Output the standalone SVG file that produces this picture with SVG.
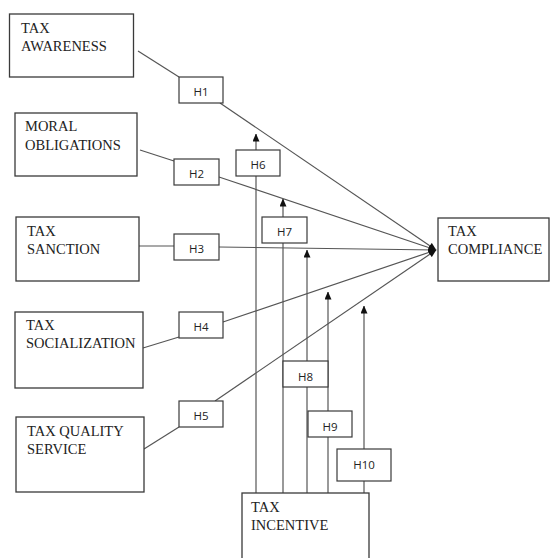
<svg xmlns="http://www.w3.org/2000/svg" width="550" height="558" viewBox="0 0 550 558">
<style>
.box{fill:#fff;stroke:#3a3a3a;stroke-width:1.3}
.hbox{fill:#fff;stroke:#3a3a3a;stroke-width:1.2}
.lbl{font-family:"Liberation Serif","Times New Roman",serif;font-size:14.5px;fill:#222}
.h{font-family:"Open Sans","DejaVu Sans",sans-serif;font-size:11.5px;fill:#222;text-anchor:middle}
.ln{stroke:#555;stroke-width:1.2;fill:none}
</style>
<defs>
<marker id="ah" markerWidth="8" markerHeight="7" refX="7.5" refY="3.5" orient="auto" markerUnits="userSpaceOnUse">
<path d="M0,0 L8,3.5 L0,7 z" fill="#111"/>
</marker>
</defs>
<rect width="550" height="558" fill="#fff"/>
<g id="connectors">
<polyline class="ln" points="138,51 179,77"/>
<polyline class="ln" points="220,103 436,250" marker-end="url(#ah)"/>
<polyline class="ln" points="140,150 174,161"/>
<polyline class="ln" points="219,177 436,250" marker-end="url(#ah)"/>
<polyline class="ln" points="139,246 174,246"/>
<polyline class="ln" points="219,247 436,250" marker-end="url(#ah)"/>
<polyline class="ln" points="143,348 179,337"/>
<polyline class="ln" points="223,322 436,250" marker-end="url(#ah)"/>
<polyline class="ln" points="144,449 179,427"/>
<polyline class="ln" points="215,401 436,250" marker-end="url(#ah)"/>
<line class="ln" x1="256" y1="493" x2="256" y2="134" marker-end="url(#ah)"/>
<line class="ln" x1="283" y1="493" x2="283" y2="199" marker-end="url(#ah)"/>
<line class="ln" x1="307" y1="493" x2="307" y2="250" marker-end="url(#ah)"/>
<line class="ln" x1="328" y1="493" x2="328" y2="292" marker-end="url(#ah)"/>
<line class="ln" x1="364" y1="493" x2="364" y2="306" marker-end="url(#ah)"/>
</g>
<g id="n-awareness"><rect class="box" x="9.5" y="14" width="124" height="63"/><text class="lbl" x="21" y="33">TAX</text><text class="lbl" x="21" y="51">AWARENESS</text></g>
<g id="n-moral"><rect class="box" x="15" y="113" width="122" height="63"/><text class="lbl" x="25" y="131">MORAL</text><text class="lbl" x="25" y="150">OBLIGATIONS</text></g>
<g id="n-sanction"><rect class="box" x="16" y="217" width="123" height="64"/><text class="lbl" x="27" y="236">TAX</text><text class="lbl" x="27" y="254">SANCTION</text></g>
<g id="n-socialization"><rect class="box" x="15" y="312" width="128" height="76"/><text class="lbl" x="26" y="330">TAX</text><text class="lbl" x="26" y="348">SOCIALIZATION</text></g>
<g id="n-quality"><rect class="box" x="16" y="417" width="128" height="75"/><text class="lbl" x="27" y="436">TAX QUALITY</text><text class="lbl" x="27" y="454">SERVICE</text></g>
<g id="n-compliance"><rect class="box" x="438" y="218" width="111" height="63"/><text class="lbl" x="448" y="236">TAX</text><text class="lbl" x="448" y="254">COMPLIANCE</text></g>
<g id="n-incentive"><rect class="box" x="242" y="493" width="127" height="70"/><text class="lbl" x="251" y="512">TAX</text><text class="lbl" x="251" y="530">INCENTIVE</text></g>
<g id="h1"><rect class="hbox" x="179" y="77" width="44" height="26"/><text class="h" x="201" y="96">H1</text></g>
<g id="h2"><rect class="hbox" x="174" y="159" width="45" height="26"/><text class="h" x="196.5" y="178">H2</text></g>
<g id="h3"><rect class="hbox" x="174" y="234" width="45" height="26"/><text class="h" x="196.5" y="253">H3</text></g>
<g id="h4"><rect class="hbox" x="179" y="312" width="44" height="26"/><text class="h" x="201" y="331">H4</text></g>
<g id="h5"><rect class="hbox" x="179" y="401" width="44" height="26"/><text class="h" x="201" y="420">H5</text></g>
<g id="h6"><rect class="hbox" x="236" y="150" width="44" height="26"/><text class="h" x="258" y="169">H6</text></g>
<g id="h7"><rect class="hbox" x="262" y="217" width="45" height="26"/><text class="h" x="284.5" y="236">H7</text></g>
<g id="h8"><rect class="hbox" x="283" y="361" width="45" height="26"/><text class="h" x="305.5" y="381">H8</text></g>
<g id="h9"><rect class="hbox" x="308" y="411" width="44" height="26"/><text class="h" x="330" y="431">H9</text></g>
<g id="h10"><rect class="hbox" x="337" y="449" width="54" height="32"/><text class="h" x="364" y="469">H10</text></g>
</svg>
